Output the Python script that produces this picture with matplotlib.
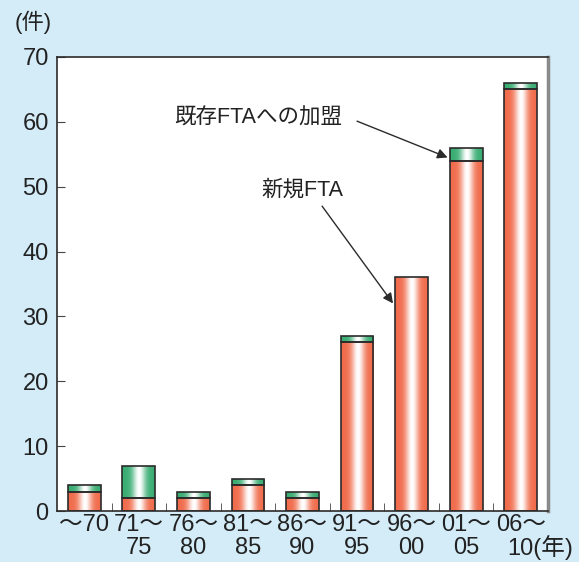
import numpy as np
import matplotlib
matplotlib.use("Agg")
import matplotlib.pyplot as plt
from matplotlib.colors import to_rgb
from matplotlib.patches import Rectangle

plt.rcParams['font.family'] = ['Liberation Sans', 'Noto Sans CJK JP', 'DejaVu Sans']

period_start = ["～70", "71～", "76～", "81～", "86～", "91～", "96～", "01～", "06～"]
period_end = ["", "75", "80", "85", "90", "95", "00", "05", "10"]
new_fta = [3, 2, 2, 4, 2, 26, 36, 54, 65]
joined_fta = [1, 5, 1, 1, 1, 1, 0, 2, 1]

BG = "#d3ecf8"
RED = "#f06c4c"
GREEN = "#3aad73"
INK = "#222222"


def gradient(color, n=64):
    # edge colour -> white highlight -> edge colour across the bar width
    c = np.array(to_rgb(color))
    t = np.linspace(0, 1, n)
    w = np.exp(-((t - 0.52) / 0.2) ** 2)
    img = c[None, :] * (1 - w[:, None]) + w[:, None]
    return img[None, :, :]


def grad_bar(ax, x, bottom, height, color, width=0.6):
    if height <= 0:
        return
    rect = Rectangle((x - width / 2, bottom), width, height,
                     facecolor="none", edgecolor="#2b2b2b", lw=1.2, zorder=3)
    ax.add_patch(rect)
    im = ax.imshow(gradient(color), aspect="auto", interpolation="bilinear",
                   extent=(x - width / 2, x + width / 2, bottom, bottom + height),
                   zorder=2)
    im.set_clip_path(rect)


fig = plt.figure(figsize=(5.79, 5.62), dpi=100, facecolor=BG)
ax = fig.add_axes([0.0984, 0.0907, 0.848, 0.808])
ax.set_facecolor("white")

n = len(period_start)
for i in range(n):
    grad_bar(ax, i, 0, new_fta[i], RED)
    grad_bar(ax, i, new_fta[i], joined_fta[i], GREEN)

ax.set_xlim(-0.5, n - 0.5)
ax.set_ylim(0, 70)
ax.set_yticks(range(0, 71, 10))
ax.set_xticks(np.arange(n))
ax.set_xticklabels(period_start, fontsize=17, color=INK)
ax.tick_params(axis="x", length=0, pad=2)
ax.set_xticks(np.arange(0.5, n - 1, 1), minor=True)
ax.tick_params(axis="x", which="minor", direction="in", length=6, color="#444444")
ax.tick_params(axis="y", direction="in", length=6, labelsize=17, pad=6,
               labelcolor=INK, color="#444444")

# second row of the period labels; the last one carries the unit
xt = ax.get_xaxis_transform()
for i, lab in enumerate(period_end):
    if not lab:
        continue
    if i == n - 1:
        ax.text(i - 0.24, -0.081, lab + "(年)", transform=xt, fontsize=17,
                ha="left", va="center", color=INK)
    else:
        ax.text(i, -0.081, lab, transform=xt, fontsize=17,
                ha="center", va="center", color=INK)

for s in ("left", "bottom", "top"):
    ax.spines[s].set_color("#2b2b2b")
    ax.spines[s].set_linewidth(1.2)
ax.spines["right"].set_color("#8a8a8a")
ax.spines["right"].set_linewidth(2.5)

arrow = dict(arrowstyle="-|>", color="#2b2b2b", lw=1, shrinkA=0, shrinkB=0,
             mutation_scale=15)
ax.text(3.19, 60.6, "既存FTAへの加盟", fontsize=15.5, ha="center", va="center", color=INK)
ax.annotate("", xy=(6.66, 54.5), xytext=(5.0, 60.1), arrowprops=arrow)
ax.text(3.99, 49.5, "新規FTA", fontsize=15.5, ha="center", va="center", color=INK)
ax.annotate("", xy=(5.66, 32.0), xytext=(4.36, 47.0), arrowprops=arrow)

fig.text(0.025, 0.961, "(件)", fontsize=16, ha="left", va="center", color=INK)

fig.savefig("out.png", dpi=100, facecolor=BG)
